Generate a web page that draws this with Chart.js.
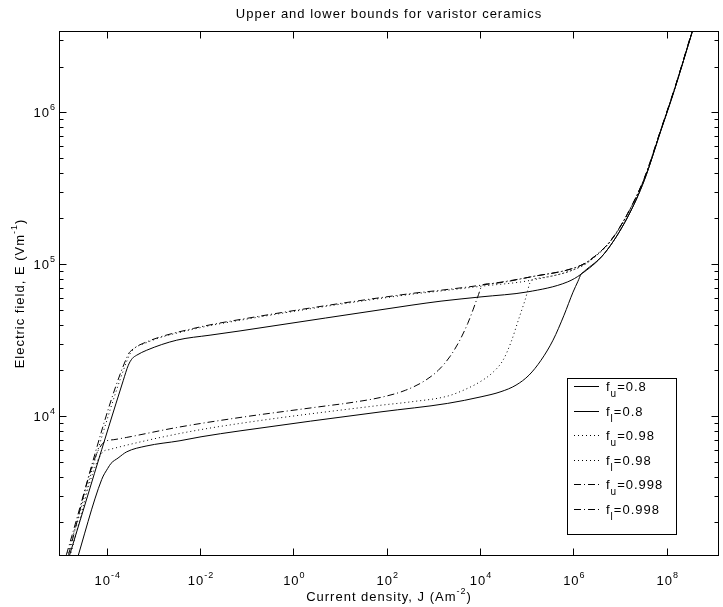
<!DOCTYPE html>
<html>
<head>
<meta charset="utf-8">
<script src="https://cdn.jsdelivr.net/npm/chart.js@4.4.1/dist/chart.umd.min.js"></script>
<style>
  body { margin: 0; background: #fff; }
  canvas { display: block; }
</style>
</head>
<body>
<canvas id="chart" width="723" height="607"></canvas>
<script>
// current density J (A/m^2) and field E (V/m)
const jFu08 = [1.318e-5, 2.27e-4, 2.904e-4, 3.548e-4, 4.395e-4, 7.21e-4, 3.162e-3, 1.637e-2, 7.19e-2, 331.9, 1459, 1.05e4, 1.052e5, 7.568e5, 1.459e6, 4.603e6, 1.459e7, 3.311e7, 7.534e7, 1.455e8, 3.606e8, 4.169e8];
const eFu08 = [1000, 1.722e4, 2.163e4, 2.399e4, 2.518e4, 2.716e4, 3.162e4, 3.412e4, 3.639e4, 5.370e4, 5.715e4, 6.095e4, 6.577e4, 7.656e4, 8.590e4, 1.175e5, 2.046e5, 3.573e5, 7.621e5, 1.396e6, 3.459e6, 3.981e6];

const jFl08 = [2.042e-5, 7.816e-5, 1.052e-4, 1.239e-4, 1.750e-4, 2.685e-4, 6.966e-4, 3.724e-3, 1.050e-2, 7.19e-2, 75.51, 2028, 1.050e4, 2.812e4, 5.902e4, 1.122e5, 2.028e5, 3.664e5, 6.295e5, 9.82e5, 1.256e6, 1.459e6, 1.72e6, 4.603e6, 1.459e7, 3.311e7, 7.534e7, 1.455e8, 3.606e8, 4.169e8];
const eFl08 = [1000, 3828, 4529, 4887, 5297, 5821, 6353, 6887, 7311, 7998, 1.067e4, 1.213e4, 1.340e4, 1.449e4, 1.600e4, 1.862e4, 2.333e4, 3.162e4, 4.613e4, 6.546e4, 7.727e4, 8.590e4, 8.99e4, 1.175e5, 2.046e5, 3.573e5, 7.621e5, 1.396e6, 3.459e6, 3.981e6];

const jFu098 = [1.175e-5, 2.754e-4, 3.388e-4, 7.21e-4, 7.178e-3, 7.19e-2, 331.9, 1459, 1.05e4, 1.259e5, 1.459e6, 2.767e6, 6.397e6, 1.459e7, 3.311e7, 7.534e7, 1.455e8, 3.606e8, 4.169e8];
const eFu098 = [1000, 2.344e4, 2.661e4, 3.048e4, 3.733e4, 4.276e4, 6.339e4, 6.668e4, 7.161e4, 7.852e4, 9.661e4, 1.107e5, 1.429e5, 2.148e5, 3.664e5, 7.691e5, 1.409e6, 3.499e6, 4.074e6];

const jFl098 = [1.380e-5, 8.337e-5, 1.122e-4, 1.387e-4, 3.724e-3, 7.19e-2, 75.51, 331.9, 2028, 5000, 1.05e4, 1.897e4, 3.105e4, 4.613e4, 6.839e4, 9.204e4, 1.259e5, 1.778e5, 1.459e6, 2.767e6, 6.397e6, 1.459e7, 3.311e7, 7.534e7, 1.455e8, 3.606e8, 4.169e8];
const eFl098 = [1000, 5821, 6012, 6124, 7691, 8954, 1.180e4, 1.242e4, 1.355e4, 1.507e4, 1.698e4, 1.945e4, 2.333e4, 3.069e4, 4.416e4, 5.794e4, 7.852e4, 8.091e4, 9.661e4, 1.107e5, 1.429e5, 2.148e5, 3.664e5, 7.691e5, 1.409e6, 3.499e6, 4.074e6];

const jFu0998 = [1.122e-5, 2.818e-4, 3.436e-4, 7.21e-4, 7.178e-3, 7.19e-2, 331.9, 1459, 1.05e4, 1.236e5, 1.459e6, 2.767e6, 6.397e6, 1.459e7, 3.311e7, 7.534e7, 1.455e8, 3.606e8, 4.169e8];
const eFu0998 = [1000, 2.512e4, 2.716e4, 3.083e4, 3.776e4, 4.325e4, 6.412e4, 6.745e4, 7.278e4, 8.26e4, 9.84e4, 1.117e5, 1.439e5, 2.158e5, 3.681e5, 7.727e5, 1.416e6, 3.516e6, 4.074e6];

const jFl0998 = [1.259e-5, 8.337e-5, 1.413e-4, 2.685e-4, 3.162e-3, 7.19e-2, 3.162, 19.95, 79.43, 251.2, 631.0, 1259, 2239, 3548, 5445, 7079, 8913, 1.14e4, 1.585e4, 1.236e5, 1.459e6, 2.767e6, 6.397e6, 1.459e7, 3.311e7, 7.534e7, 1.455e8, 3.606e8, 4.169e8];
const eFl0998 = [1000, 6637, 6998, 7244, 8414, 9795, 1.146e4, 1.236e4, 1.334e4, 1.479e4, 1.698e4, 1.995e4, 2.455e4, 3.090e4, 4.074e4, 5.012e4, 6.095e4, 7.311e4, 7.430e4, 8.26e4, 9.84e4, 1.117e5, 1.439e5, 2.158e5, 3.681e5, 7.727e5, 1.416e6, 3.516e6, 4.074e6];

const legendSubs = ['u', 'l', 'u', 'l', 'u', 'l'];
const legendVals = ['0.8', '0.8', '0.98', '0.98', '0.998', '0.998'];

const xTickExps = [-4, -2, 0, 2, 4, 6, 8];
const yTickExps = [4, 5, 6];
const yMinorMult = [2, 3, 4, 5, 6, 7, 8, 9];

const titleText = 'Upper and lower bounds for varistor ceramics';
const FONT = '"Liberation Sans", Arial, Helvetica, sans-serif';
const FS = 13;   // main text size
const SS = 9;    // super/subscript size

function pts(js, es) {
    return js.map((j, i) => ({ x: j, y: es[i] }));
}

const solid = [];
const dotted = [1, 3];
const dashDot = [7, 3, 1, 3];

function line(js, es, dash) {
    return {
        data: pts(js, es),
        borderColor: '#000',
        borderWidth: 1,
        borderDash: dash,
        pointRadius: 0,
        cubicInterpolationMode: 'monotone',
        fill: false
    };
}

function setFont(ctx, size) {
    ctx.font = size + 'px ' + FONT;
    ctx.letterSpacing = '1px';
}

// base text + raised text + optional tail
function supText(ctx, base, sup, tail, x, y, align) {
    setFont(ctx, FS);
    const wb = ctx.measureText(base).width;
    const wt = tail ? ctx.measureText(tail).width : 0;
    setFont(ctx, SS);
    const ws = ctx.measureText(sup).width;
    const total = wb + ws + wt;
    let x0 = x;
    if (align === 'center') x0 = x - total / 2;
    if (align === 'right') x0 = x - total;
    setFont(ctx, FS);
    ctx.fillText(base, x0, y);
    setFont(ctx, SS);
    ctx.fillText(sup, x0 + wb, y - 7);
    if (tail) {
        setFont(ctx, FS);
        ctx.fillText(tail, x0 + wb + ws, y);
    }
}

const matlabAxes = {
    id: 'matlabAxes',
    afterDraw(chart) {
        const ctx = chart.ctx;
        const a = chart.chartArea;
        const xs = chart.scales.x, ys = chart.scales.y;
        const L = Math.round(a.left) + 0.5, R = Math.round(a.right) - 0.5;
        const T = Math.round(a.top) + 0.5, B = Math.round(a.bottom) - 0.5;
        ctx.save();
        ctx.strokeStyle = '#000';
        ctx.fillStyle = '#000';
        ctx.lineWidth = 1;
        ctx.strokeRect(L, T, R - L, B - T);

        ctx.beginPath();
        xTickExps.forEach(p => {
            const px = Math.round(xs.getPixelForValue(Math.pow(10, p))) + 0.5;
            ctx.moveTo(px, B); ctx.lineTo(px, B - 7);
            ctx.moveTo(px, T); ctx.lineTo(px, T + 7);
        });
        for (let p = 3; p <= 6; p++) {
            if (yTickExps.includes(p)) {
                const py = Math.round(ys.getPixelForValue(Math.pow(10, p))) + 0.5;
                ctx.moveTo(L, py); ctx.lineTo(L + 7, py);
                ctx.moveTo(R, py); ctx.lineTo(R - 7, py);
            }
            yMinorMult.forEach(m => {
                const v = m * Math.pow(10, p);
                if (v < ys.min || v > ys.max) return;
                const py = Math.round(ys.getPixelForValue(v)) + 0.5;
                ctx.moveTo(L, py); ctx.lineTo(L + 4, py);
                ctx.moveTo(R, py); ctx.lineTo(R - 4, py);
            });
        }
        ctx.stroke();

        ctx.textBaseline = 'alphabetic';
        ctx.textAlign = 'left';
        xTickExps.forEach(p => {
            const px = xs.getPixelForValue(Math.pow(10, p));
            supText(ctx, '10', String(p), '', px + 1, 585, 'center');
        });
        yTickExps.forEach(p => {
            const py = ys.getPixelForValue(Math.pow(10, p));
            supText(ctx, '10', String(p), '', 56, py + 5, 'right');
        });

        // title and axis labels
        setFont(ctx, FS);
        const wTitle = ctx.measureText(titleText).width;
        ctx.fillText(titleText, (L + R) / 2 - wTitle / 2, 18);
        supText(ctx, 'Current density, J (Am', '-2', ')', (L + R) / 2, 601, 'center');
        ctx.save();
        ctx.translate(24, (T + B) / 2);
        ctx.rotate(-Math.PI / 2);
        supText(ctx, 'Electric field, E (Vm', '-1', ')', 0, 0, 'center');
        ctx.restore();

        // legend box
        const bx = 567.5, by = 378.5, bw = 109, bh = 156;
        ctx.fillStyle = '#fff';
        ctx.fillRect(bx, by, bw, bh);
        ctx.strokeRect(bx, by, bw, bh);
        ctx.fillStyle = '#000';
        chart.data.datasets.forEach((ds, i) => {
            const cy = Math.round(386 + i * 24.6) + 0.5;
            ctx.beginPath();
            ctx.setLineDash(ds.borderDash);
            ctx.moveTo(574, cy); ctx.lineTo(599, cy);
            ctx.stroke();
            ctx.setLineDash([]);
            setFont(ctx, FS);
            const wf = ctx.measureText('f').width;
            ctx.fillText('f', 606, cy + 4);
            setFont(ctx, SS + 1);
            const wsub = ctx.measureText(legendSubs[i]).width;
            ctx.fillText(legendSubs[i], 606 + wf, cy + 10);
            setFont(ctx, FS);
            ctx.fillText('=' + legendVals[i], 606 + wf + wsub, cy + 4);
        });
        ctx.restore();
    }
};

const ctx = document.getElementById('chart').getContext('2d');
const chart = new Chart(ctx, {
    type: 'line',
    data: {
        datasets: [
            line(jFu08, eFu08, solid),
            line(jFl08, eFl08, solid),
            line(jFu098, eFu098, dotted),
            line(jFl098, eFl098, dotted),
            line(jFu0998, eFu0998, dashDot),
            line(jFl0998, eFl0998, dashDot)
        ]
    },
    options: {
        responsive: false,
        animation: false,
        layout: { padding: { left: 59, right: 4, top: 31, bottom: 51 } },
        scales: {
            x: { type: 'logarithmic', min: 9.5e-6, max: 1.32e9, display: false },
            y: { type: 'logarithmic', min: 1200, max: 3.43e6, display: false }
        },
        plugins: {
            legend: { display: false },
            tooltip: { enabled: false }
        }
    },
    plugins: [matlabAxes]
});
</script>
</body>
</html>
